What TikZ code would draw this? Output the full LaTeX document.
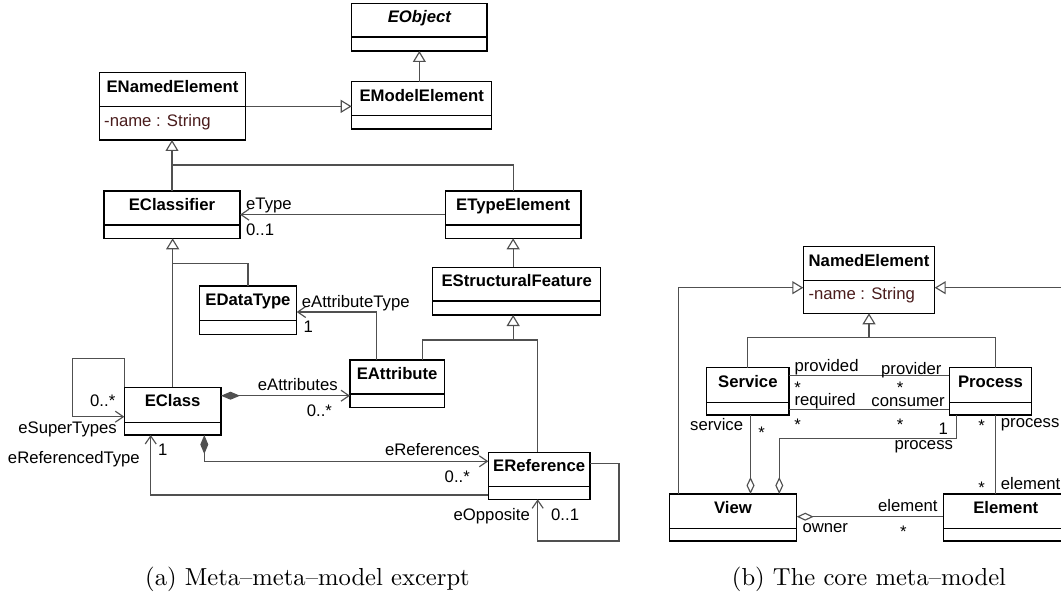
\documentclass[tikz,border=0pt]{standalone}
\usepackage{fontspec}
\newfontfamily\umlfont{Liberation Sans}
\usetikzlibrary{arrows.meta}
\definecolor{edge}{HTML}{505050}
\definecolor{attrcol}{HTML}{4A1C1C}
\tikzset{
  box/.style={draw=black, line width=1.4pt, fill=white, inner sep=0pt, outer sep=0pt, anchor=north west},
  boxline/.style={draw=black, line width=1.4pt},
  title/.style={font=\umlfont\bfseries\fontsize{16.7}{20}\selectfont, inner sep=0pt, anchor=base},
  lbl/.style={font=\umlfont\fontsize{16.7}{20}\selectfont, inner sep=0pt, text=black},
  lw/.style={lbl, anchor=base west},
  le/.style={lbl, anchor=base east},
  lc/.style={lbl, anchor=base},
  attr/.style={lbl, text=attrcol, anchor=base west},
  conn/.style={draw=edge, line width=1.15pt},
  gen/.style={conn, -{Triangle[open, length=11pt, width=13pt]}},
  nav/.style={conn, -{Straight Barb[length=8pt, width=11pt]}},
  comp/.style={conn, {Diamond[length=19pt, width=8pt]}-{Straight Barb[length=8pt, width=11pt]}},
  agg/.style={conn, {Diamond[open, length=17pt, width=8pt]}-},
  caption/.style={inner sep=0pt, anchor=base, scale=2.46}
}
% a raised multiplicity star whose box hugs the glyph
\newcommand\manystar{\raisebox{0pt}[\height][-6.5pt]{*}}
% \classbox{name}{left}{top}{width}{height}{divider y}{title}
\newcommand\classbox[7]{%
  \node[box, minimum width=#4pt, minimum height=#5pt] (#1) at (#2,#3) {};
  \draw[boxline] (#2,#6) -- ++(#4,0);
  \node[title] (#1-title) at ([yshift=-19.5pt]#1.north) {#7};
}
\begin{document}
\begin{tikzpicture}[x=1pt, y=-1pt]
\clip (0,0) rectangle (1061,599);

% ---------- (a) meta-meta-model ----------
\classbox{EObject}{351.7}{3.3}{135.3}{47.7}{37}{\itshape EObject}
\classbox{EModelElement}{351.7}{81.7}{140}{47.3}{115.7}{EModelElement}
\classbox{ENamedElement}{99.3}{72.7}{146.4}{67.3}{106.7}{ENamedElement}
\node[attr] (ENamedElement-attr) at (104,126.7) {-name : String};
\classbox{EClassifier}{104}{191}{136}{47.3}{225}{EClassifier}
\classbox{ETypeElement}{445.3}{191}{135.7}{47.3}{225}{ETypeElement}
\classbox{EDataType}{199.3}{286}{97.4}{48.3}{320.3}{EDataType}
\classbox{EStructuralFeature}{432.7}{267.3}{168}{47.7}{301}{EStructuralFeature}
\classbox{EAttribute}{350}{360}{94.3}{47.3}{394}{EAttribute}
\classbox{EClass}{124.3}{387.3}{96.7}{47.7}{422.3}{EClass}
\classbox{EReference}{488.3}{452.3}{101.7}{47}{486.7}{EReference}

% routing points
\coordinate (j1) at (0,165);
\coordinate (j2) at (0,263.3);
\coordinate (j3) at (422.7,340);
\coordinate (j4) at (376.7,312);
\coordinate (j5) at (0,395.7);
\coordinate (j6) at (72.3,358.3);
\coordinate (j7) at (0,416.7);
\coordinate (j8) at (204.3,461.3);
\coordinate (j9) at (150.7,495);
\coordinate (o1) at (619,463.3);
\coordinate (o2) at (537.7,541);

% generalizations
\draw[gen] (ENamedElement.east) -- (ENamedElement.east -| EModelElement.west);
\draw[gen] (EObject.south |- EModelElement.north) -- (EObject.south);
\draw[gen] (EClassifier.north) -- (EClassifier.north |- ENamedElement.south);
\draw[conn] (ETypeElement.north) |- (EClassifier.north |- j1);
\draw[gen] (EClass.north) -- (EClass.north |- EClassifier.south);
\draw[conn] (EDataType.north) |- (EClass.north |- j2);
\draw[gen] (ETypeElement.south |- EStructuralFeature.north) -- (ETypeElement.south);
\draw[conn] (EAttribute.north -| j3) |- (o2 |- j3) -- (o2 |- EReference.north);
\draw[gen] (ETypeElement.south |- j3) -- (ETypeElement.south |- EStructuralFeature.south);

% associations
\draw[nav] (ETypeElement.west) -- (ETypeElement.west -| EClassifier.east);
\node[lw] (l-eType) at (246,210) {eType};
\node[lw] (l-eType-m) at (246,235) {0..1};

\draw[nav] (EAttribute.north -| j4) |- (EDataType.east |- j4);
\node[lw] (l-eAttrType) at (301.7,307.3) {eAttributeType};
\node[lw] (l-eAttrType-m) at (303.5,332.3) {1};

\draw[comp] (EClass.east |- j5) -- (EAttribute.west |- j5);
\node[lw] (l-eAttrs) at (257.7,390) {eAttributes};
\node[lw] (l-eAttrs-m) at (306.7,416) {0..\manystar};

\draw[nav] (EClass.north west) |- (j6) |- (EClass.west |- j7);
\node[lw] (l-eSuper-m) at (90,406.7) {0..\manystar};
\node[le] (l-eSuper) at (117,433.5) {eSuperTypes};

\draw[comp] (EClass.south -| j8) |- (EReference.west |- j8);
\node[le] (l-eRefs) at (480,455.7) {eReferences};
\node[le] (l-eRefs-m) at (470,482) {0..\manystar};

\draw[nav] (EReference.west |- j9) -| (EClass.south -| j9);
\node[le] (l-eRefType) at (140,463) {eReferencedType};
\node[lw] (l-eRefType-m) at (158,455) {1};

\draw[nav] (EReference.east |- o1) -- (o1) |- (o2) -- (o2 |- EReference.south);
\node[le] (l-eOpp) at (530,520.7) {eOpposite};
\node[lw] (l-eOpp-m) at (551,520.7) {0..1};

% ---------- (b) core meta-model ----------
\classbox{NamedElement}{803.3}{246.7}{131.4}{66.6}{280.7}{NamedElement}
\node[attr] (NamedElement-attr) at (808.3,299) {-name : String};
\classbox{Service}{706.7}{367.7}{82.3}{47.3}{402.3}{Service}
\classbox{Process}{949.3}{367.7}{82.4}{47.3}{402.3}{Process}
\classbox{View}{669.3}{494}{127.4}{47}{528.3}{View}
\classbox{Element}{943.3}{494}{125}{47}{528.3}{Element}

\coordinate (r1) at (678.3,287.7);
\coordinate (r2) at (1065,287.7);
\coordinate (r3) at (0,337.7);
\coordinate (r4) at (747.3,337.7);
\coordinate (r5) at (995.5,337.7);
\coordinate (r6) at (0,375.7);
\coordinate (r7) at (0,409.3);
\coordinate (r8) at (750.5,0);
\coordinate (r9) at (956.7,438.3);
\coordinate (r10) at (779.3,0);
\coordinate (r11) at (0,516.7);

\draw[gen] (View.north -| r1) |- (NamedElement.west |- r1);
\draw[gen] (Element.north -| r2) |- (NamedElement.east |- r2);
\draw[gen] (NamedElement.south |- r3) -- (NamedElement.south);
\draw[conn] (Service.north -| r4) |- (r5) -- (Process.north -| r5);

\draw[conn] (Service.east |- r6) -- (Process.west |- r6);
\node[lw] (l-provided) at (794.3,371) {provided};
\node[le] (l-provider) at (941.7,374) {provider};
\node[lc] (l-provided-m) at (797.7,393.5) {\manystar};
\node[lc] (l-provider-m) at (900,393.5) {\manystar};

\draw[conn] (Service.east |- r7) -- (Process.west |- r7);
\node[lw] (l-required) at (794.3,405) {required};
\node[le] (l-consumer) at (945,406.7) {consumer};
\node[lc] (l-required-m) at (797.7,430) {\manystar};
\node[lc] (l-consumer-m) at (900,430) {\manystar};

\draw[agg] (View.north -| r8) -- (Service.south -| r8);
\node[le] (l-service) at (743.3,430.7) {service};
\node[lc] (l-service-m) at (761.7,438) {\manystar};

\draw[agg] (View.north -| r10) |- (r9) -- (Process.south -| r9);
\node[lc] (l-proc1-m) at (943.3,434) {1};
\node[lw] (l-proc1) at (894.3,449) {process};

\draw[conn] (Process.south -| r5) -- (Element.north -| r5);
\node[lc] (l-proc2-m) at (981.7,431) {\manystar};
\node[lw] (l-proc2) at (1000.7,427) {process};
\node[lc] (l-elem1-m) at (981.7,493) {\manystar};
\node[lw] (l-elem1) at (1000.7,489) {element};

\draw[agg] (View.east |- r11) -- (Element.west |- r11);
\node[le] (l-elem2) at (937.7,511.7) {element};
\node[lw] (l-owner) at (802.3,532.7) {owner};
\node[lc] (l-elem2-m) at (903.3,537) {\manystar};

% ---------- captions ----------
\node[caption] (capA) at (307.5,585) {(a) Meta--meta--model excerpt};
\node[caption] (capB) at (869,585) {(b) The core meta--model};
\end{tikzpicture}
\end{document}
